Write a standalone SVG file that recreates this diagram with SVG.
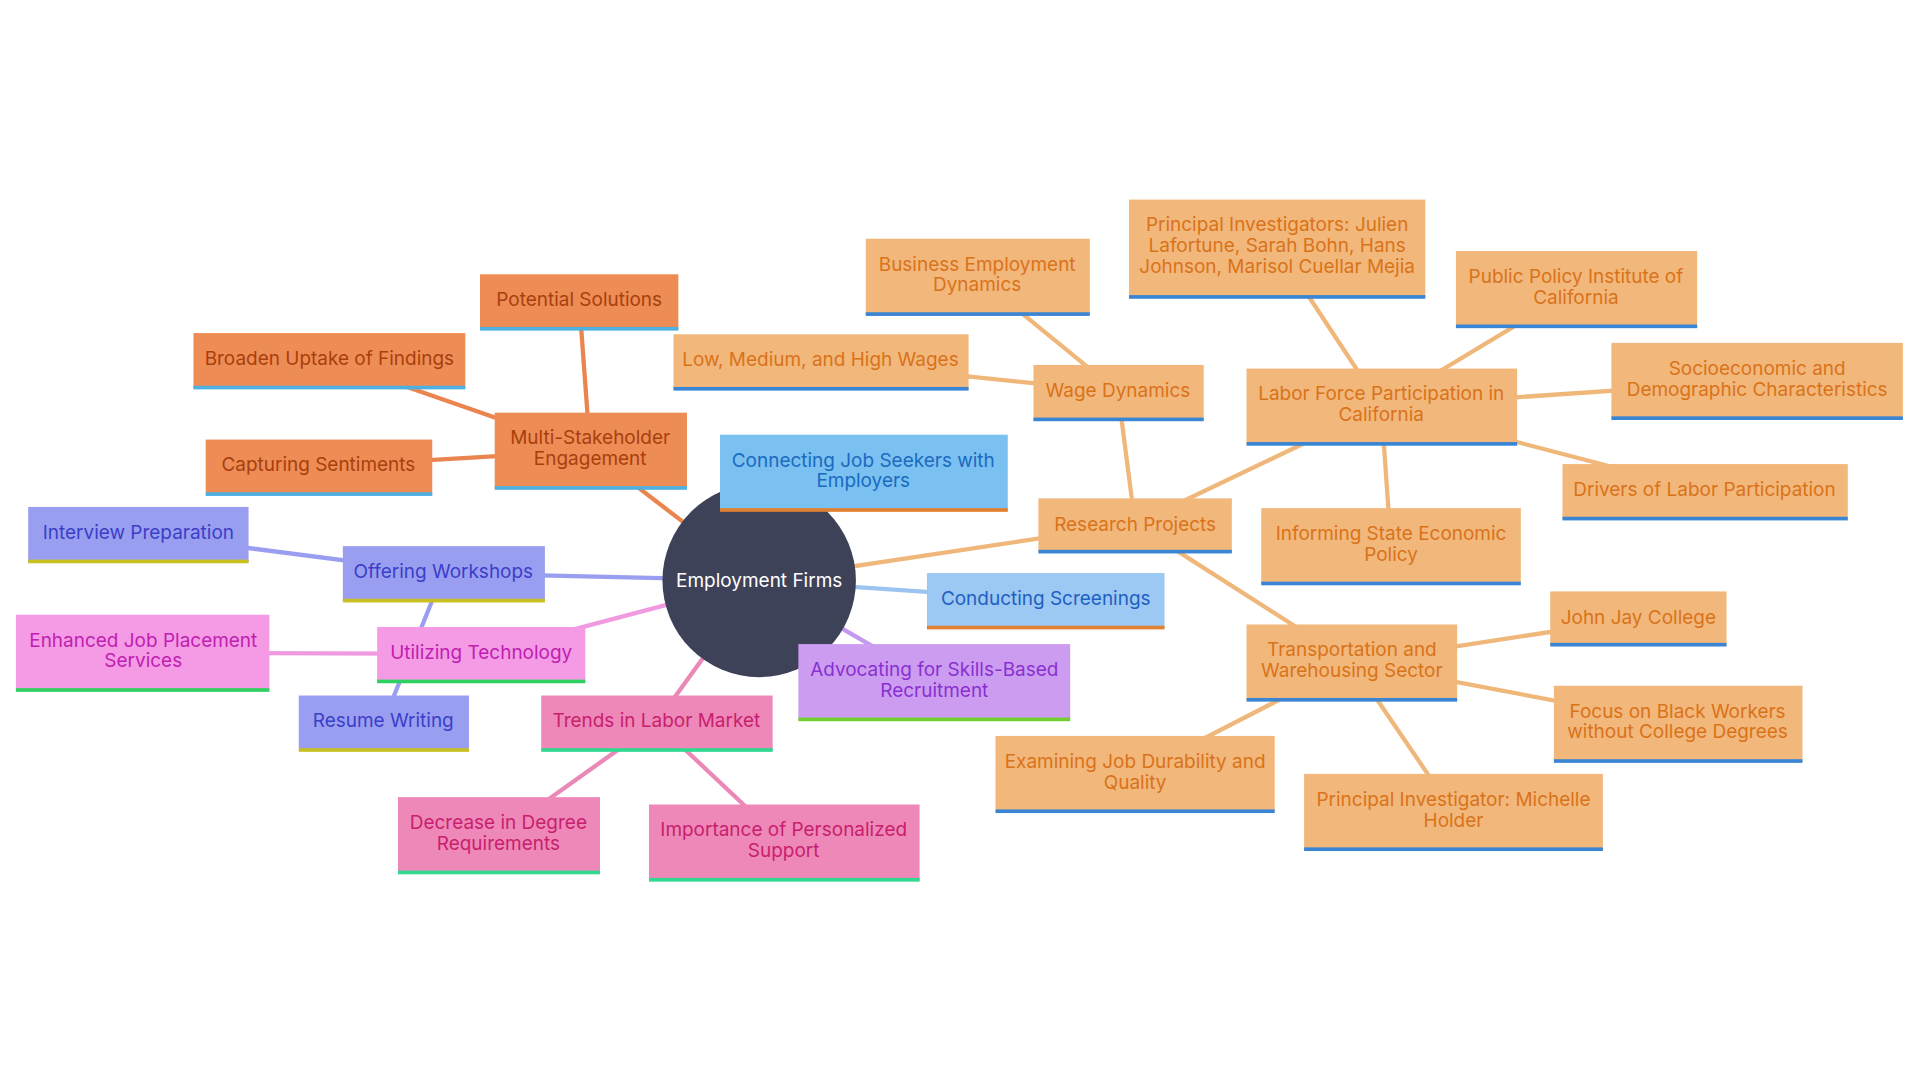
<svg xmlns="http://www.w3.org/2000/svg" width="1920" height="1080" viewBox="0 0 1920 1080">
<style>
text{font-family:Inter,"Noto Sans",sans-serif;font-size:15.5px;text-anchor:middle}
.e{stroke-width:3.5;fill:none;stroke-linecap:round}
.o rect.b{fill:#f2b77a}.o text{fill:#d9731a}.o rect.u{fill:#3a86d4}
.m rect.b{fill:#ee8c55}.m text{fill:#a8400e}.m rect.u{fill:#4db0e0}
.w rect.b{fill:#9a9ef0}.w text{fill:#3a3fc8}.w rect.u{fill:#c8c020}
.t rect.b{fill:#f59be6}.t text{fill:#c020b0}.t rect.u{fill:#30d060}
.r rect.b{fill:#ee88b8}.r text{fill:#c8206e}.r rect.u{fill:#30d890}
.c rect.b{fill:#7ac0f0}.c text{fill:#1a6ac0}.c rect.u{fill:#e08030}
.s rect.b{fill:#9cc8f4}.s text{fill:#2060c0}.s rect.u{fill:#e08030}
.a rect.b{fill:#cc9cf0}.a text{fill:#8a30d0}.a rect.u{fill:#70d030}
</style>
<rect width="1920" height="1080" fill="#fff"/>
<g transform="scale(1.2245)">
<g id="connectors">
<g stroke="#f0b77a" class="e">
<line x1="620" y1="474" x2="927" y2="428"/>
<line x1="927" y1="428" x2="913" y2="320"/>
<line x1="913" y1="320" x2="798" y2="226"/>
<line x1="913" y1="320" x2="670" y2="295"/>
<line x1="927" y1="428" x2="1128" y2="332"/>
<line x1="1128" y1="332" x2="1043" y2="203"/>
<line x1="1128" y1="332" x2="1287" y2="236"/>
<line x1="1128" y1="332" x2="1435" y2="311"/>
<line x1="1128" y1="332" x2="1392" y2="401"/>
<line x1="1128" y1="332" x2="1136" y2="446"/>
<line x1="927" y1="428" x2="1104" y2="541"/>
<line x1="1104" y1="541" x2="1338" y2="505"/>
<line x1="1104" y1="541" x2="1370" y2="591"/>
<line x1="1104" y1="541" x2="1187" y2="663"/>
<line x1="1104" y1="541" x2="927" y2="632"/>
</g>
<g stroke="#ea8550" class="e">
<line x1="620" y1="474" x2="482" y2="368"/>
<line x1="482" y1="368" x2="473" y2="246"/>
<line x1="482" y1="368" x2="269" y2="294"/>
<line x1="482" y1="368" x2="260" y2="381"/>
</g>
<line class="e" stroke="#7ab8ec" x1="620" y1="474" x2="705" y2="386"/>
<line class="e" stroke="#9cc4f0" x1="620" y1="474" x2="854" y2="490"/>
<line class="e" stroke="#c49af0" x1="620" y1="474" x2="763" y2="557"/>
<g stroke="#9a9ef0" class="e">
<line x1="620" y1="474" x2="362" y2="468"/>
<line x1="362" y1="468" x2="113" y2="436"/>
<line x1="362" y1="468" x2="313" y2="590"/>
</g>
<g stroke="#f09be0" class="e">
<line x1="620" y1="474" x2="393" y2="534"/>
<line x1="393" y1="534" x2="116" y2="533"/>
</g>
<g stroke="#ea88b8" class="e">
<line x1="620" y1="474" x2="536" y2="590"/>
<line x1="536" y1="590" x2="407" y2="682"/>
<line x1="536" y1="590" x2="640" y2="688"/>
</g>
</g>
<g id="center"><circle cx="620" cy="474" r="79" fill="#3e4259"/><text x="620" y="479" fill="#fff">Employment Firms</text></g>
<g id="research" class="o"><rect class="b" x="848" y="407" width="158" height="44"/><rect class="u" x="848" y="449" width="158" height="3"/><text x="927" y="434">Research Projects</text></g>
<g id="wage" class="o"><rect class="b" x="844" y="298" width="139" height="45"/><rect class="u" x="844" y="341" width="139" height="3"/><text x="913" y="324">Wage Dynamics</text></g>
<g id="bed" class="o"><rect class="b" x="707" y="195" width="183" height="62"/><rect class="u" x="707" y="255" width="183" height="3"/><text x="798" y="221">Business Employment</text><text x="798" y="238">Dynamics</text></g>
<g id="lmh" class="o"><rect class="b" x="550" y="273" width="241" height="45"/><rect class="u" x="550" y="316" width="241" height="3"/><text x="670" y="299">Low, Medium, and High Wages</text></g>
<g id="lfp" class="o"><rect class="b" x="1018" y="301" width="221" height="62"/><rect class="u" x="1018" y="361" width="221" height="3"/><text x="1128" y="327">Labor Force Participation in</text><text x="1128" y="344">California</text></g>
<g id="pis" class="o"><rect class="b" x="922" y="163" width="242" height="80"/><rect class="u" x="922" y="241" width="242" height="3"/><text x="1043" y="189">Principal Investigators: Julien</text><text x="1043" y="206">Lafortune, Sarah Bohn, Hans</text><text x="1043" y="223">Johnson, Marisol Cuellar Mejia</text></g>
<g id="ppic" class="o"><rect class="b" x="1189" y="205" width="197" height="62"/><rect class="u" x="1189" y="265" width="197" height="3"/><text x="1287" y="231">Public Policy Institute of</text><text x="1287" y="248">California</text></g>
<g id="socio" class="o"><rect class="b" x="1316" y="280" width="238" height="62"/><rect class="u" x="1316" y="340" width="238" height="3"/><text x="1435" y="306">Socioeconomic and</text><text x="1435" y="323">Demographic Characteristics</text></g>
<g id="drivers" class="o"><rect class="b" x="1276" y="379" width="233" height="45"/><rect class="u" x="1276" y="422" width="233" height="3"/><text x="1392" y="405">Drivers of Labor Participation</text></g>
<g id="informing" class="o"><rect class="b" x="1030" y="415" width="212" height="62"/><rect class="u" x="1030" y="475" width="212" height="3"/><text x="1136" y="441">Informing State Economic</text><text x="1136" y="458">Policy</text></g>
<g id="tws" class="o"><rect class="b" x="1018" y="510" width="172" height="62"/><rect class="u" x="1018" y="570" width="172" height="3"/><text x="1104" y="536">Transportation and</text><text x="1104" y="553">Warehousing Sector</text></g>
<g id="jjc" class="o"><rect class="b" x="1266" y="483" width="144" height="44"/><rect class="u" x="1266" y="525" width="144" height="3"/><text x="1338" y="510">John Jay College</text></g>
<g id="focus" class="o"><rect class="b" x="1269" y="560" width="203" height="62"/><rect class="u" x="1269" y="620" width="203" height="3"/><text x="1370" y="586">Focus on Black Workers</text><text x="1370" y="603">without College Degrees</text></g>
<g id="holder" class="o"><rect class="b" x="1065" y="632" width="244" height="62"/><rect class="u" x="1065" y="692" width="244" height="3"/><text x="1187" y="658">Principal Investigator: Michelle</text><text x="1187" y="675">Holder</text></g>
<g id="exam" class="o"><rect class="b" x="813" y="601" width="228" height="62"/><rect class="u" x="813" y="661" width="228" height="3"/><text x="927" y="627">Examining Job Durability and</text><text x="927" y="644">Quality</text></g>
<g id="msh" class="m"><rect class="b" x="404" y="337" width="157" height="62"/><rect class="u" x="404" y="397" width="157" height="3"/><text x="482" y="363">Multi-Stakeholder</text><text x="482" y="380">Engagement</text></g>
<g id="potential" class="m"><rect class="b" x="392" y="224" width="162" height="45"/><rect class="u" x="392" y="267" width="162" height="3"/><text x="473" y="250">Potential Solutions</text></g>
<g id="broaden" class="m"><rect class="b" x="158" y="272" width="222" height="45"/><rect class="u" x="158" y="315" width="222" height="3"/><text x="269" y="298">Broaden Uptake of Findings</text></g>
<g id="capturing" class="m"><rect class="b" x="168" y="359" width="185" height="45"/><rect class="u" x="168" y="402" width="185" height="3"/><text x="260" y="385">Capturing Sentiments</text></g>
<g id="connecting" class="c"><rect class="b" x="588" y="355" width="235" height="62"/><rect class="u" x="588" y="415" width="235" height="3"/><text x="705" y="381">Connecting Job Seekers with</text><text x="705" y="398">Employers</text></g>
<g id="screenings" class="s"><rect class="b" x="757" y="468" width="194" height="45"/><rect class="u" x="757" y="511" width="194" height="3"/><text x="854" y="494">Conducting Screenings</text></g>
<g id="advocating" class="a"><rect class="b" x="652" y="526" width="222" height="62"/><rect class="u" x="652" y="586" width="222" height="3"/><text x="763" y="552">Advocating for Skills-Based</text><text x="763" y="569">Recruitment</text></g>
<g id="workshops" class="w"><rect class="b" x="280" y="446" width="165" height="45"/><rect class="u" x="280" y="489" width="165" height="3"/><text x="362" y="472">Offering Workshops</text></g>
<g id="interview" class="w"><rect class="b" x="23" y="414" width="180" height="45"/><rect class="u" x="23" y="457" width="180" height="3"/><text x="113" y="440">Interview Preparation</text></g>
<g id="resume" class="w"><rect class="b" x="244" y="568" width="139" height="45"/><rect class="u" x="244" y="611" width="139" height="3"/><text x="313" y="594">Resume Writing</text></g>
<g id="tech" class="t"><rect class="b" x="308" y="512" width="170" height="45"/><rect class="u" x="308" y="555" width="170" height="3"/><text x="393" y="538">Utilizing Technology</text></g>
<g id="enhanced" class="t"><rect class="b" x="13" y="502" width="207" height="62"/><rect class="u" x="13" y="562" width="207" height="3"/><text x="117" y="528">Enhanced Job Placement</text><text x="117" y="545">Services</text></g>
<g id="trends" class="r"><rect class="b" x="442" y="568" width="189" height="45"/><rect class="u" x="442" y="611" width="189" height="3"/><text x="536" y="594">Trends in Labor Market</text></g>
<g id="decrease" class="r"><rect class="b" x="325" y="651" width="165" height="62"/><rect class="u" x="325" y="711" width="165" height="3"/><text x="407" y="677">Decrease in Degree</text><text x="407" y="694">Requirements</text></g>
<g id="importance" class="r"><rect class="b" x="530" y="657" width="221" height="62"/><rect class="u" x="530" y="717" width="221" height="3"/><text x="640" y="683">Importance of Personalized</text><text x="640" y="700">Support</text></g>
</g>
</svg>
